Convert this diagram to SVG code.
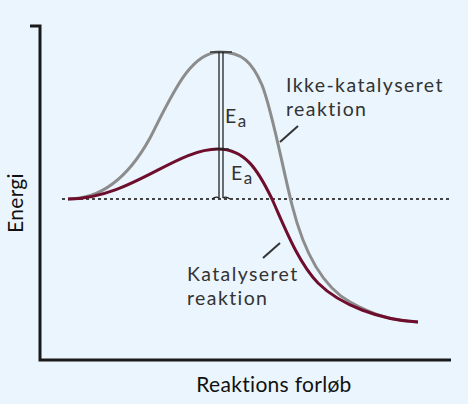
<svg xmlns="http://www.w3.org/2000/svg" width="468" height="404" viewBox="0 0 468 404">
<style>
.axis{stroke:#1a1a1a;stroke-width:3;fill:none}
.gray{stroke:#8c8c8c;stroke-width:3;fill:none}
.red{stroke:#6e0d2c;stroke-width:3;fill:none}
.dot{stroke:#444;stroke-width:2;stroke-dasharray:3 3;fill:none}
.ea{stroke:#222;stroke-width:1.3;fill:none}
.lbl{font-family:Lato,"Liberation Sans",sans-serif;font-size:19.5px;letter-spacing:1.4px;fill:#333}
.ax{font-family:Lato,"Liberation Sans",sans-serif;font-size:21px;letter-spacing:0.3px;fill:#111}
.lead{stroke:#333;stroke-width:2;fill:none}
</style>
<rect width="468" height="404" fill="#eaf5fd"/>
<g id="axes">
<path class="axis" d="M30,26 H40 V360 H451"/>
</g>
<g id="baseline"><line class="dot" x1="62" y1="199" x2="451" y2="199"/></g>
<g id="curve-uncatalyzed"><path class="gray" d="M68,199 C100,199 128,178 150,138 C172,95 190,52 220,52 C242,52 252,62 262,85 C272,110 282,165 292,205 C302,245 320,285 350,302 C375,316 395,321 418,322"/></g>
<g id="curve-catalyzed"><path class="red" d="M68,199 C130,199 175,149 218,149 C245,149 258,170 272,199 C285,228 298,262 318,283 C340,305 380,320 418,322"/></g>
<g id="ea-bars">
<line class="ea" x1="219" y1="52" x2="219" y2="198"/>
<line class="ea" x1="223" y1="52" x2="223" y2="198"/>
<line class="ea" x1="210" y1="52" x2="232" y2="52"/>
<line class="ea" x1="213" y1="149" x2="229" y2="149"/>
<path class="ea" d="M212,199 Q216,196 219,198 M223,198 Q226,196 230,199"/>
<text class="lbl" x="225" y="123" font-size="19" letter-spacing="0">E<tspan font-size="17" dy="4">a</tspan></text>
<text class="lbl" x="231" y="180" font-size="19" letter-spacing="0">E<tspan font-size="17" dy="4">a</tspan></text>
</g>
<g id="label-uncatalyzed">
<text class="lbl" x="286" y="92">Ikke-katalyseret</text>
<text class="lbl" x="286" y="115.5">reaktion</text>
</g>
<g id="label-catalyzed">
<text class="lbl" x="187" y="281">Katalyseret</text>
<text class="lbl" x="187" y="304.5">reaktion</text>
</g>
<g id="connectors">
<line class="lead" x1="280" y1="142" x2="298" y2="126"/>
<line class="lead" x1="263" y1="258" x2="280" y2="243"/>
</g>
<text class="ax" transform="translate(23,203) rotate(-90)" text-anchor="middle">Energi</text>
<text class="ax" x="274" y="392" text-anchor="middle">Reaktions forløb</text>
</svg>
